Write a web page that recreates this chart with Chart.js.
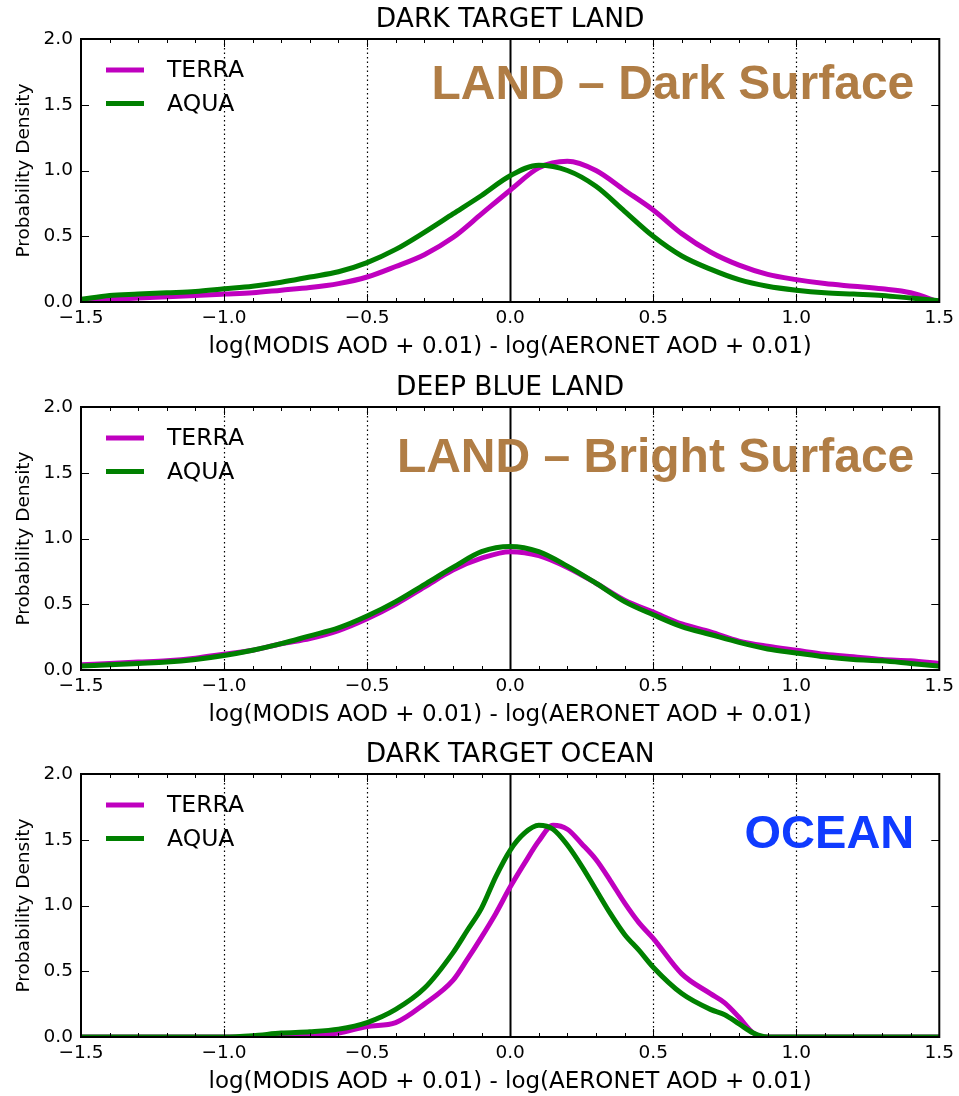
<!DOCTYPE html>
<html>
<head>
<meta charset="utf-8">
<script src="https://cdn.jsdelivr.net/npm/chart.js@4/dist/chart.umd.min.js"></script>
<style>
  html, body { margin: 0; padding: 0; background: #fff; overflow: hidden; }
  .panel { position: absolute; left: 0; width: 959px; height: 368px; }
</style>
</head>
<body>
<div class="panel" style="top:0px"><canvas id="c1"></canvas></div>
<div class="panel" style="top:368px"><canvas id="c2"></canvas></div>
<div class="panel" style="top:735px"><canvas id="c3"></canvas></div>
<script>
// x grid (log difference) for the two land panels
const xLand = [-1.5, -1.4, -1.3, -1.2, -1.1, -1.0, -0.9, -0.8, -0.7, -0.6, -0.5, -0.4, -0.3, -0.2, -0.1,
  0.0, 0.1, 0.2, 0.3, 0.4, 0.5, 0.6, 0.7, 0.8, 0.9, 1.0, 1.1, 1.2, 1.3, 1.4, 1.5];

// DARK TARGET LAND
const dtLandTerra = [0.00, 0.02, 0.03, 0.04, 0.05, 0.06, 0.07, 0.09, 0.11, 0.14, 0.19, 0.27, 0.36, 0.49, 0.67,
  0.85, 1.02, 1.07, 1.00, 0.85, 0.70, 0.52, 0.38, 0.28, 0.21, 0.17, 0.14, 0.12, 0.10, 0.07, 0.00];
const dtLandAqua = [0.02, 0.05, 0.06, 0.07, 0.08, 0.10, 0.12, 0.15, 0.19, 0.23, 0.30, 0.40, 0.53, 0.67, 0.81,
  0.96, 1.04, 1.00, 0.88, 0.69, 0.50, 0.35, 0.25, 0.17, 0.12, 0.09, 0.07, 0.06, 0.05, 0.03, 0.01];

// DEEP BLUE LAND
const dbLandTerra = [0.04, 0.05, 0.06, 0.07, 0.09, 0.12, 0.15, 0.20, 0.24, 0.30, 0.39, 0.50, 0.63, 0.76, 0.85,
  0.90, 0.87, 0.78, 0.66, 0.53, 0.44, 0.35, 0.29, 0.22, 0.18, 0.15, 0.12, 0.10, 0.08, 0.07, 0.05];
const dbLandAqua = [0.03, 0.04, 0.05, 0.06, 0.08, 0.11, 0.15, 0.20, 0.26, 0.32, 0.41, 0.52, 0.65, 0.78, 0.90,
  0.94, 0.90, 0.79, 0.66, 0.52, 0.42, 0.33, 0.27, 0.21, 0.16, 0.13, 0.10, 0.08, 0.07, 0.05, 0.03];

// DARK TARGET OCEAN (finer grid round the peak)
const xOcean = [-1.5, -1.0, -0.9, -0.8, -0.7, -0.6, -0.5, -0.4, -0.3, -0.2, -0.15, -0.1, -0.05, 0.0, 0.05, 0.1, 0.15,
  0.2, 0.25, 0.3, 0.35, 0.4, 0.45, 0.5, 0.6, 0.7, 0.75, 0.8, 0.85, 0.9, 1.0, 1.5];
const dtOceanTerra = [0, 0, 0, 0, 0.01, 0.03, 0.08, 0.11, 0.25, 0.43, 0.59, 0.76, 0.94, 1.14, 1.32, 1.49, 1.61,
  1.58, 1.47, 1.35, 1.19, 1.02, 0.87, 0.75, 0.48, 0.33, 0.26, 0.15, 0.03, 0, 0, 0];
const dtOceanAqua = [0, 0, 0.01, 0.03, 0.04, 0.06, 0.11, 0.21, 0.37, 0.64, 0.81, 0.98, 1.22, 1.42, 1.55, 1.61, 1.58,
  1.46, 1.30, 1.12, 0.94, 0.78, 0.66, 0.53, 0.33, 0.21, 0.17, 0.10, 0.03, 0, 0, 0];

const refLines = [-1.0, -0.5, 0.0, 0.5, 1.0];
const xLabel = 'log(MODIS AOD + 0.01) - log(AERONET AOD + 0.01)';
const yLabel = 'Probability Density';

const TERRA_COLOR = 'rgb(191,0,191)';
const AQUA_COLOR = 'rgb(0,128,0)';
const FONT = "'DejaVu Sans', sans-serif";

// frame, inside ticks, reference lines, legend and the big note
const decor = {
  id: 'decor',
  beforeDatasetsDraw(chart) {
    const {ctx, chartArea: a, scales: {x}} = chart;
    ctx.save();
    ctx.strokeStyle = '#000';
    refLines.forEach(v => {
      const px = Math.round(x.getPixelForValue(v)) + 0.5;
      ctx.beginPath();
      if (v === 0) { ctx.setLineDash([]); ctx.lineWidth = 2; }
      else { ctx.setLineDash([1.5, 3]); ctx.lineWidth = 1.2; }
      ctx.moveTo(px, a.top);
      ctx.lineTo(px, a.bottom);
      ctx.stroke();
    });
    ctx.restore();
  },
  afterDatasetsDraw(chart, args, opts) {
    const {ctx, chartArea: a, scales: {x, y}} = chart;
    ctx.save();
    ctx.strokeStyle = '#000';
    ctx.lineWidth = 1;
    ctx.setLineDash([]);
    // x ticks every 0.1, longer every 0.5, top and bottom
    for (let i = -15; i <= 15; i++) {
      const px = Math.round(x.getPixelForValue(i / 10)) + 0.5;
      const len = i % 5 === 0 ? 8 : 4;
      ctx.beginPath();
      ctx.moveTo(px, a.bottom); ctx.lineTo(px, a.bottom - len);
      ctx.moveTo(px, a.top); ctx.lineTo(px, a.top + len);
      ctx.stroke();
    }
    for (let j = 0; j <= 4; j++) {
      const py = Math.round(y.getPixelForValue(j / 2)) + 0.5;
      ctx.beginPath();
      ctx.moveTo(a.left, py); ctx.lineTo(a.left + 8, py);
      ctx.moveTo(a.right, py); ctx.lineTo(a.right - 8, py);
      ctx.stroke();
    }
    ctx.lineWidth = 2;
    ctx.strokeRect(a.left, a.top, a.right - a.left, a.bottom - a.top);

    // legend
    ctx.font = '23.5px ' + FONT;
    ctx.textBaseline = 'middle';
    ctx.textAlign = 'left';
    chart.data.datasets.forEach((ds, i) => {
      const ly = a.top + 31 + i * 33.5;
      ctx.beginPath();
      ctx.lineWidth = 5;
      ctx.strokeStyle = ds.borderColor;
      ctx.moveTo(a.left + 25, ly);
      ctx.lineTo(a.left + 63, ly);
      ctx.stroke();
      ctx.fillStyle = '#000';
      ctx.fillText(ds.label, a.left + 86, ly + 1);
    });

    // note
    ctx.font = 'bold ' + opts.size + "px 'Liberation Sans', Arial, sans-serif";
    ctx.textAlign = 'right';
    ctx.textBaseline = 'alphabetic';
    ctx.fillStyle = opts.color;
    ctx.fillText(opts.text, a.right - 25, a.top + opts.dy);
    ctx.restore();
  }
};

function makePanel(id, title, xs, terra, aqua, note) {
  return new Chart(document.getElementById(id), {
    type: 'line',
    data: {
      datasets: [
        {
          label: 'TERRA',
          data: xs.map((v, i) => ({x: v, y: terra[i]})),
          borderColor: TERRA_COLOR,
          borderWidth: 5,
          pointRadius: 0,
          cubicInterpolationMode: 'monotone',
          clip: 0,
          order: 2
        },
        {
          label: 'AQUA',
          data: xs.map((v, i) => ({x: v, y: aqua[i]})),
          borderColor: AQUA_COLOR,
          borderWidth: 5,
          pointRadius: 0,
          cubicInterpolationMode: 'monotone',
          clip: 0,
          order: 1
        }
      ]
    },
    options: {
      responsive: true,
      maintainAspectRatio: false,
      animation: false,
      layout: { padding: { left: 0, right: 18, top: 0, bottom: 0 } },
      plugins: {
        legend: { display: false },
        tooltip: { enabled: false },
        title: {
          display: true,
          fullSize: false,
          text: title,
          color: '#000',
          font: { family: FONT, size: 26.5, weight: 'normal' },
          padding: { top: 4, bottom: 3.2 }
        },
        decor: note
      },
      scales: {
        x: {
          type: 'linear',
          min: -1.5,
          max: 1.5,
          grid: { display: false, drawTicks: false },
          border: { display: false },
          ticks: {
            stepSize: 0.5,
            autoSkip: false,
            maxRotation: 0,
            padding: 5,
            color: '#000',
            font: { family: FONT, size: 18.5 },
            callback: v => (v < 0 ? '\u2212' : '') + Math.abs(v).toFixed(1)
          },
          title: {
            display: true,
            text: xLabel,
            color: '#000',
            font: { family: FONT, size: 23 },
            padding: { top: 4, bottom: 7 }
          },
          afterFit: s => { s.height = 66; }
        },
        y: {
          min: 0,
          max: 2,
          grid: { display: false, drawTicks: false },
          border: { display: false },
          ticks: {
            stepSize: 0.5,
            padding: 8,
            color: '#000',
            font: { family: FONT, size: 18.5 },
            callback: v => v.toFixed(1)
          },
          title: {
            display: true,
            text: yLabel,
            color: '#000',
            font: { family: FONT, size: 18.5 },
            padding: { top: 13, bottom: 0 }
          },
          afterFit: s => { s.width = 81; }
        }
      }
    },
    plugins: [decor]
  });
}

makePanel('c1', 'DARK TARGET LAND', xLand, dtLandTerra, dtLandAqua,
  { text: 'LAND \u2013 Dark Surface', color: '#B07D45', size: 48, dy: 60 });
makePanel('c2', 'DEEP BLUE LAND', xLand, dbLandTerra, dbLandAqua,
  { text: 'LAND \u2013 Bright Surface', color: '#B07D45', size: 48, dy: 65 });
makePanel('c3', 'DARK TARGET OCEAN', xOcean, dtOceanTerra, dtOceanAqua,
  { text: 'OCEAN', color: '#0F3BFF', size: 47, dy: 74 });
</script>
</body>
</html>
